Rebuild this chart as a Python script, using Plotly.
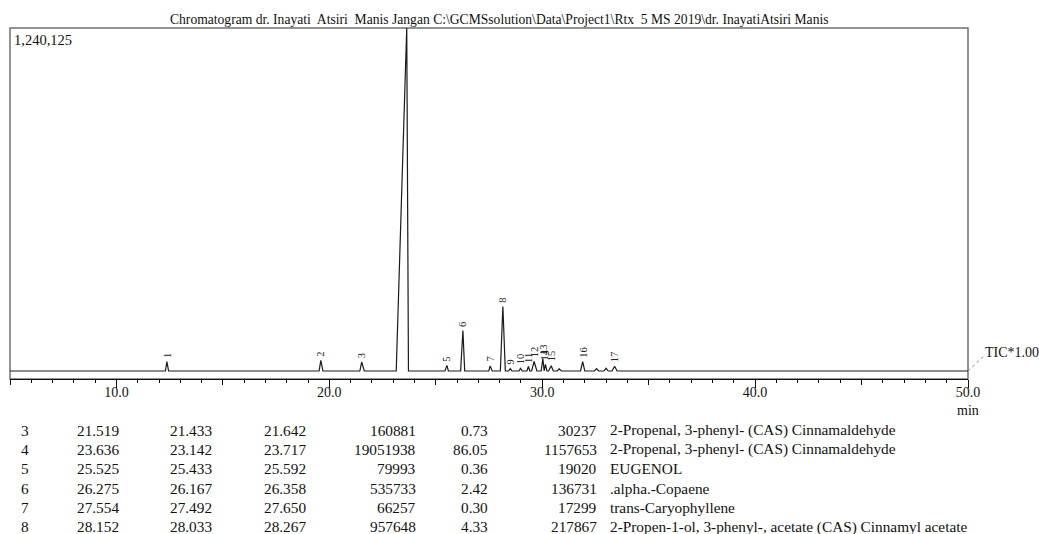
import plotly.graph_objects as go

# ---------------- data ----------------
title_text = ("Chromatogram dr. Inayati  Atsiri  Manis Jangan "
              "C:\\GCMSsolution\\Data\\Project1\\Rtx  5 MS 2019\\dr. InayatiAtsiri Manis")
max_intensity_label = "1,240,125"
max_intensity = 1240125
trace_label = "TIC*1.00"
x_unit = "min"

# peaks of the chromatogram (retention time, start, end, height above baseline)
peak_labels = ["1", "2", "3", "4", "5", "6", "7", "8", "9", "10",
               "11", "12", "13", "14", "15", "16", "17"]
peak_rt = [12.37, 19.60, 21.519, 23.636, 25.525, 26.275, 27.554, 28.152, 28.50,
           28.98, 29.35, 29.62, 30.03, 30.15, 30.42, 31.90, 33.40]
peak_start = [12.30, 19.52, 21.433, 23.142, 25.433, 26.167, 27.492, 28.033, 28.42,
              28.90, 29.28, 29.50, 29.95, 30.09, 30.30, 31.80, 33.28]
peak_end = [12.45, 19.70, 21.642, 23.717, 25.592, 26.358, 27.650, 28.267, 28.58,
            29.06, 29.42, 29.75, 30.09, 30.22, 30.52, 32.00, 33.52]
peak_height = [32000, 36000, 30237, 1157653, 19020, 136731, 17299, 217867, 8000,
               9000, 15000, 32000, 42000, 22000, 18000, 32000, 16000]

# small unlabelled bumps
bump_rt = [30.80, 32.55, 33.00]
bump_start = [30.70, 32.45, 32.90]
bump_end = [30.90, 32.65, 33.10]
bump_height = [7000, 8000, 9000]

run_start, run_end = 5.0, 50.0

# peak table (visible rows)
tbl_peak = ["3", "4", "5", "6", "7", "8"]
tbl_rtime = ["21.519", "23.636", "25.525", "26.275", "27.554", "28.152"]
tbl_itime = ["21.433", "23.142", "25.433", "26.167", "27.492", "28.033"]
tbl_ftime = ["21.642", "23.717", "25.592", "26.358", "27.650", "28.267"]
tbl_area = ["160881", "19051938", "79993", "535733", "66257", "957648"]
tbl_area_pct = ["0.73", "86.05", "0.36", "2.42", "0.30", "4.33"]
tbl_height = ["30237", "1157653", "19020", "136731", "17299", "217867"]
tbl_name = ["2-Propenal, 3-phenyl- (CAS) Cinnamaldehyde",
            "2-Propenal, 3-phenyl- (CAS) Cinnamaldehyde",
            "EUGENOL",
            ".alpha.-Copaene",
            "trans-Caryophyllene",
            "2-Propen-1-ol, 3-phenyl-, acetate (CAS) Cinnamyl acetate"]

# ---------------- layout geometry ----------------
W, H = 1039, 534
PL, PR, PT, PB = 10, 968, 28, 379   # plot area in pixels
BASE_PX = 371                        # baseline pixel row
SERIF = "Liberation Serif, Times New Roman, serif"
INK = "#111"

def pxx(px):
    return (px - PL) / (PR - PL)

def pxy(py):
    return (PB - py) / (PB - PT)

# baseline level derived from the biggest peak reaching the top
i_max = peak_height.index(max(peak_height))
baseline = max_intensity - peak_height[i_max]
scale = peak_height[i_max] / (BASE_PX - PT)
y_min = baseline - (PB - BASE_PX) * scale

# build trace points
pts = [(run_start, baseline), (run_end, baseline)]
for s, r, e, h in zip(peak_start, peak_rt, peak_end, peak_height):
    pts += [(s, baseline), (r, baseline + h), (e, baseline)]
for s, r, e, h in zip(bump_start, bump_rt, bump_end, bump_height):
    pts += [(s, baseline), (r, baseline + h), (e, baseline)]
pts.sort(key=lambda p: p[0])
tx = [p[0] for p in pts]
ty = [p[1] for p in pts]

fig = go.Figure()
fig.add_trace(go.Scatter(x=tx, y=ty, mode="lines",
                         line=dict(color="#1a1a1a", width=1.2),
                         hoverinfo="skip", showlegend=False))
# empty traces for the secondary tick axes
fig.add_trace(go.Scatter(x=[None], y=[None], xaxis="x2", showlegend=False,
                         hoverinfo="skip"))
fig.add_trace(go.Scatter(x=[None], y=[None], xaxis="x3", showlegend=False,
                         hoverinfo="skip"))

ann = []
# peak labels
for lab, r, h in zip(peak_labels, peak_rt, peak_height):
    if baseline + h >= max_intensity:
        continue
    ann.append(dict(x=r, y=baseline + h, xref="x", yref="y", text=lab,
                    showarrow=False, textangle=-90, xanchor="center",
                    yanchor="bottom", yshift=2,
                    font=dict(family=SERIF, size=10.5, color="#222")))

# texts around the plot
ann.append(dict(x=pxx(499), y=pxy(20), xref="paper", yref="paper", text=title_text,
                showarrow=False, xanchor="center", yanchor="middle",
                font=dict(family=SERIF, size=13.6, color=INK)))
ann.append(dict(x=pxx(12), y=pxy(40), xref="paper", yref="paper",
                text=max_intensity_label, showarrow=False, xanchor="left",
                yanchor="middle", font=dict(family=SERIF, size=14.5, color=INK)))
ann.append(dict(x=pxx(983), y=pxy(352), xref="paper", yref="paper", text=trace_label,
                showarrow=False, xanchor="left", yanchor="middle",
                font=dict(family=SERIF, size=14, color=INK)))
ann.append(dict(x=pxx(968), y=pxy(410), xref="paper", yref="paper", text=x_unit,
                showarrow=False, xanchor="center", yanchor="middle",
                font=dict(family=SERIF, size=14, color=INK)))

# peak table
cols = [(tbl_peak, 19, "left"), (tbl_rtime, 75, "left"), (tbl_itime, 168, "left"),
        (tbl_ftime, 262, "left"), (tbl_area, 418, "right"), (tbl_area_pct, 490, "right"),
        (tbl_height, 599, "right"), (tbl_name, 608, "left")]
for ri in range(len(tbl_peak)):
    yc = 430 + ri * 19.35
    for values, xp, anc in cols:
        ann.append(dict(x=pxx(xp), y=pxy(yc), xref="paper", yref="paper",
                        text=values[ri], showarrow=False, xanchor=anc,
                        yanchor="middle",
                        font=dict(family=SERIF, size=15.3, color=INK)))

shapes = [
    dict(type="rect", xref="paper", yref="paper", x0=0, y0=0, x1=1, y1=1,
         line=dict(color="#707070", width=1.5), layer="below"),
    dict(type="line", xref="paper", yref="paper", x0=1, y0=pxy(BASE_PX),
         x1=pxx(985), y1=pxy(355), line=dict(color="#888", width=1, dash="dot")),
]

common = dict(range=[run_start, run_end], showgrid=False, zeroline=False)
fig.update_layout(
    width=W, height=H,
    margin=dict(l=PL, r=W - PR, t=PT, b=H - PB),
    paper_bgcolor="white", plot_bgcolor="white",
    showlegend=False,
    xaxis=dict(**common, tick0=0, dtick=10, tickformat=".1f", ticks="",
               showline=True, linecolor=INK, linewidth=1.2,
               tickfont=dict(family=SERIF, size=14, color=INK),
               minor=dict(dtick=1, tick0=0, ticks="outside", ticklen=3,
                          tickcolor=INK, tickwidth=1, showgrid=False)),
    xaxis2=dict(**common, overlaying="x", anchor="y", side="bottom",
                tick0=0, dtick=10, ticks="outside", ticklen=8, tickwidth=1,
                tickcolor=INK, showticklabels=False, showline=False),
    xaxis3=dict(**common, overlaying="x", anchor="y", side="bottom",
                tick0=5, dtick=10, ticks="outside", ticklen=5, tickwidth=1,
                tickcolor=INK, showticklabels=False, showline=False),
    yaxis=dict(range=[y_min, max_intensity], visible=False, showgrid=False,
               zeroline=False),
    annotations=ann,
    shapes=shapes,
)

fig.write_html("out.html",
               config={"displayModeBar": False, "staticPlot": True},
               post_script="document.body.style.margin='0';"
                           "document.body.style.overflow='hidden';")
